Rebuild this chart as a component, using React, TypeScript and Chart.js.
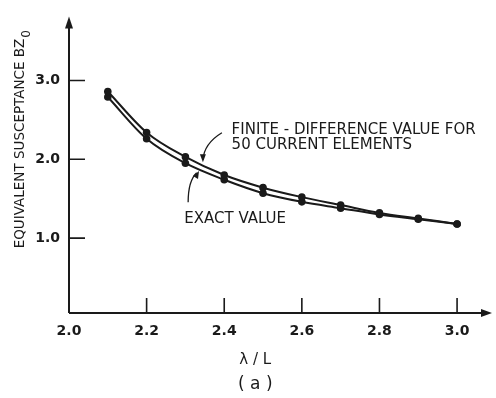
import React, { useEffect, useRef } from "react";
import { Chart, registerables } from "chart.js";

Chart.register(...registerables);

const lambdaOverL = [2.1, 2.2, 2.3, 2.4, 2.5, 2.6, 2.7, 2.8, 2.9, 3.0];
const finiteDifference = [2.86, 2.34, 2.03, 1.8, 1.64, 1.52, 1.42, 1.32, 1.25, 1.18];
const exactValue = [2.79, 2.26, 1.95, 1.74, 1.57, 1.46, 1.38, 1.3, 1.24, 1.18];
const xTicks = [2.0, 2.2, 2.4, 2.6, 2.8, 3.0];
const yTicks = [1.0, 2.0, 3.0];

const FONT = "'DejaVu Sans', sans-serif";
const INK = "#1a1a1a";

const overlay = {
  id: "overlay",
  afterDraw(chart: any) {
    const ctx = chart.ctx as CanvasRenderingContext2D;
    const xs = chart.scales.x;
    const ys = chart.scales.y;
    const X = (v: number) => xs.getPixelForValue(v);
    const Y = (v: number) => ys.getPixelForValue(v);
    const left = xs.left;
    const bottom = ys.bottom;
    ctx.save();
    ctx.strokeStyle = INK;
    ctx.fillStyle = INK;
    ctx.lineWidth = 2;
    // axes
    ctx.beginPath();
    ctx.moveTo(left, bottom);
    ctx.lineTo(xs.right - 5, bottom);
    ctx.moveTo(left, bottom);
    ctx.lineTo(left, ys.top + 6);
    ctx.stroke();
    // arrowheads
    ctx.beginPath();
    ctx.moveTo(xs.right, bottom);
    ctx.lineTo(xs.right - 11, bottom - 4);
    ctx.lineTo(xs.right - 11, bottom + 4);
    ctx.closePath();
    ctx.fill();
    ctx.beginPath();
    ctx.moveTo(left, ys.top - 1);
    ctx.lineTo(left - 4, ys.top + 11);
    ctx.lineTo(left + 4, ys.top + 11);
    ctx.closePath();
    ctx.fill();
    // tick marks (inside)
    ctx.lineWidth = 1.6;
    ctx.beginPath();
    xTicks.forEach((t) => {
      if (t === xTicks[0]) return;
      ctx.moveTo(X(t), bottom);
      ctx.lineTo(X(t), bottom - 15);
    });
    yTicks.forEach((t) => {
      ctx.moveTo(left, Y(t));
      ctx.lineTo(left + 16, Y(t));
    });
    ctx.stroke();

    // y title
    ctx.save();
    ctx.translate(20, 139);
    ctx.rotate(-Math.PI / 2);
    ctx.font = `13.5px ${FONT}`;
    ctx.textBaseline = "middle";
    ctx.textAlign = "left";
    const main = "EQUIVALENT SUSCEPTANCE BZ";
    const w = ctx.measureText(main).width;
    const sw = 9;
    const start = -(w + sw) / 2;
    ctx.fillText(main, start, 0);
    ctx.font = `12px ${FONT}`;
    ctx.fillText("0", start + w + 1, 7);
    ctx.restore();

    // x title
    ctx.font = `15px ${FONT}`;
    ctx.textAlign = "center";
    ctx.textBaseline = "middle";
    ctx.fillText("\u03bb / L", X(2.48), bottom + 47);
    ctx.font = `17px ${FONT}`;
    ctx.fillText("( a )", X(2.48), bottom + 72);

    // annotations
    ctx.font = `15px ${FONT}`;
    ctx.textAlign = "left";
    ctx.fillText("FINITE - DIFFERENCE VALUE FOR", X(2.419), Y(2.373));
    ctx.fillText("50 CURRENT ELEMENTS", X(2.419), Y(2.174));
    ctx.fillText("EXACT VALUE", X(2.297), Y(1.243));

    // curved arrows
    ctx.lineWidth = 1.3;
    ctx.beginPath();
    ctx.moveTo(X(2.394), Y(2.336));
    ctx.quadraticCurveTo(X(2.348), Y(2.199), X(2.345), Y(1.99));
    ctx.stroke();
    ctx.beginPath();
    const tx = X(2.345), ty = Y(1.963);
    ctx.moveTo(tx, ty);
    ctx.lineTo(tx - 3, ty - 8);
    ctx.lineTo(tx + 3, ty - 8);
    ctx.closePath();
    ctx.fill();

    ctx.beginPath();
    ctx.moveTo(X(2.307), Y(1.454));
    ctx.quadraticCurveTo(X(2.307), Y(1.727), X(2.329), Y(1.83));
    ctx.stroke();
    ctx.beginPath();
    const ux = X(2.335), uy = Y(1.852);
    ctx.moveTo(ux, uy);
    ctx.lineTo(ux - 6, uy + 5);
    ctx.lineTo(ux - 1, uy + 8);
    ctx.closePath();
    ctx.fill();
    ctx.restore();
  },
};

export default function App() {
  const ref = useRef<HTMLCanvasElement>(null);
  useEffect(() => {
    if (!ref.current) return;
    const mk = (vals: number[]) => lambdaOverL.map((x, i) => ({ x, y: vals[i] }));
    const ds = (label: string, vals: number[]) => ({
      label,
      data: mk(vals),
      borderColor: INK,
      backgroundColor: INK,
      borderWidth: 2,
      pointRadius: 3.8,
      pointBorderWidth: 0,
      pointBackgroundColor: INK,
      cubicInterpolationMode: "monotone" as const,
      fill: false,
    });
    const chart = new Chart(ref.current, {
      type: "line",
      data: {
        datasets: [
          ds("Finite-difference value for 50 current elements", finiteDifference),
          ds("Exact value", exactValue),
        ],
      },
      options: {
        animation: false,
        responsive: false,
        devicePixelRatio: 1,
        layout: { padding: { left: 0, right: 1, top: 0, bottom: 0 } },
        plugins: { legend: { display: false }, tooltip: { enabled: false } },
        scales: {
          x: {
            type: "linear",
            min: 2.0,
            max: 3.09,
            afterBuildTicks: (s: any) => {
              s.ticks = xTicks.map((v) => ({ value: v }));
            },
            afterFit: (s: any) => {
              s.height = 85;
            },
            grid: { display: false, drawTicks: false },
            border: { display: false },
            ticks: {
              autoSkip: false,
              maxRotation: 0,
              padding: 10,
              color: INK,
              font: { family: FONT, size: 14, weight: "bold" },
              callback: (v: any) => Number(v).toFixed(1),
            },
          },
          y: {
            type: "linear",
            min: 0.05,
            max: 3.8,
            afterBuildTicks: (s: any) => {
              s.ticks = yTicks.map((v) => ({ value: v }));
            },
            afterFit: (s: any) => {
              s.width = 69;
            },
            grid: { display: false, drawTicks: false },
            border: { display: false },
            ticks: {
              padding: 9,
              color: INK,
              font: { family: FONT, size: 14, weight: "bold" },
              callback: (v: any) => Number(v).toFixed(1),
            },
          },
        },
      },
      plugins: [overlay],
    });
    return () => chart.destroy();
  }, []);
  return (
    <div style={{ position: "absolute", left: 0, top: 0, width: 496, height: 398, background: "#fff" }}>
      <canvas ref={ref} width={496} height={398} />
    </div>
  );
}
